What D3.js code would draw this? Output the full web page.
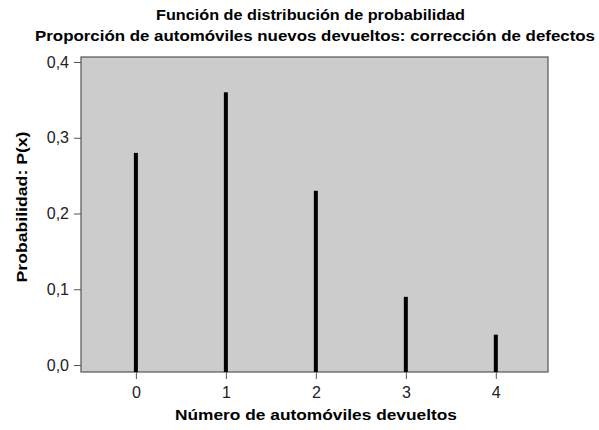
<!DOCTYPE html>
<html><head><meta charset="utf-8">
<script src="https://cdn.jsdelivr.net/npm/d3@7"></script>
<style>body{margin:0;background:#fff;} text{font-family:"Liberation Sans",Arial,sans-serif;}</style>
</head><body>
<svg id="c" width="599" height="430"></svg>
<script>
const categories = [0, 1, 2, 3, 4];
const probabilities = [0.28, 0.36, 0.23, 0.09, 0.04];
const yTicks = [0, 0.1, 0.2, 0.3, 0.4];
const yTickLabels = ["0,0", "0,1", "0,2", "0,3", "0,4"];
const titleLines = ["Función de distribución de probabilidad", "Proporción de automóviles nuevos devueltos: corrección de defectos"];
const xLabel = "Número de automóviles devueltos";
const yLabel = "Probabilidad: P(x)";

(function(){
const svg = d3.select("#c");
const pL = 81, pR = 548, pT = 57, pB = 372;
const x = d3.scaleLinear().domain([-0.61, 4.58]).range([pL, pR]);
const y = d3.scaleLinear().domain([0, 0.4]).range([365, 62]);

svg.append("rect").attr("x", pL).attr("y", pT).attr("width", pR-pL).attr("height", pB-pT)
  .attr("fill", "#cccccc").attr("stroke", "#555").attr("stroke-width", 1.2);

svg.selectAll("rect.bar").data(categories).enter().append("rect").attr("class","bar")
  .attr("x", d => x(d) - 2).attr("width", 4)
  .attr("y", (d,i) => y(probabilities[i])).attr("height", (d,i) => pB - y(probabilities[i]))
  .attr("fill", "#000");

const yAxis = d3.axisLeft(y).tickValues(yTicks).tickFormat((d,i) => yTickLabels[i]).tickSize(7).tickPadding(5);
const ga = svg.append("g").attr("transform", `translate(${pL},0)`).call(yAxis);
ga.select(".domain").remove();
ga.selectAll("line").attr("stroke", "#555");
ga.selectAll("text").attr("font-size", 16).attr("fill", "#222");

const xAxis = d3.axisBottom(x).tickValues(categories).tickFormat(d3.format("d")).tickSize(7).tickPadding(8);
const gx = svg.append("g").attr("transform", `translate(0,${pB})`).call(xAxis);
gx.select(".domain").remove();
gx.selectAll("line").attr("stroke", "#555");
gx.selectAll("text").attr("font-size", 16).attr("fill", "#222");

const titleWidths = [309, 560];
const titleCenters = [310.5, 315];
svg.selectAll("text.title").data(titleLines).enter().append("text").attr("class","title")
  .attr("x", (d,i) => titleCenters[i] - titleWidths[i]/2).attr("y", (d,i) => 20 + i*20.5)
  .attr("textLength", (d,i) => titleWidths[i]).attr("lengthAdjust", "spacingAndGlyphs")
  .attr("font-size", 14.5).attr("font-weight","bold").text(d => d);

svg.append("text").attr("x", 316 - 141).attr("y", 420)
  .attr("textLength", 282).attr("lengthAdjust", "spacingAndGlyphs")
  .attr("font-size", 15).attr("font-weight","bold").text(xLabel);

svg.append("text").attr("transform", `translate(27,${207 + 75.5}) rotate(-90)`)
  .attr("textLength", 151).attr("lengthAdjust", "spacingAndGlyphs")
  .attr("font-size", 15).attr("font-weight","bold").text(yLabel);
})();
</script>
</body></html>
